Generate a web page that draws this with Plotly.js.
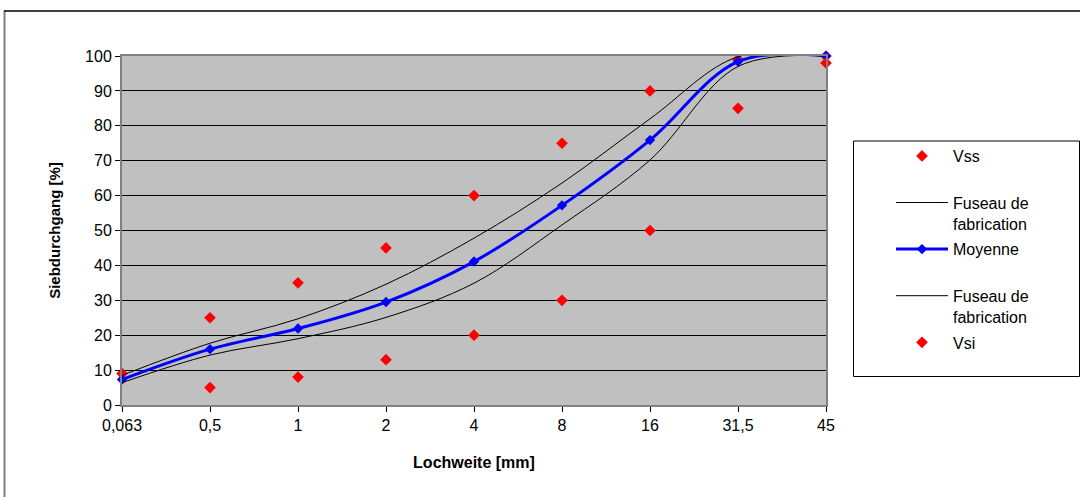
<!DOCTYPE html>
<html>
<head>
<meta charset="utf-8">
<script src="https://cdn.plot.ly/plotly-3.0.1.min.js"></script>
<style>
html,body{margin:0;padding:0;background:#fff;}
#chart{width:1080px;height:497px;}
</style>
</head>
<body>
<div id="chart"></div>
<script>
const categories = ["0,063", "0,5", "1", "2", "4", "8", "16", "31,5", "45"];
const vss      = [9, 25, 35, 45, 60, 75, 90, 99, 100];
const fuseauSup = [8.5, 17.7, 24.7, 34.6, 47.8, 63.6, 82.0, 99.8, 100];
const moyenne  = [7.3, 16.0, 21.9, 29.5, 41.1, 57.2, 75.9, 98.4, 100];
const fuseauInf = [6.4, 14.3, 19.0, 25.1, 34.9, 51.6, 70.2, 97.0, 100];
const vsi      = [null, 5, 8, 13, 20, 30, 50, 85, 98];
const yTicks   = [0, 10, 20, 30, 40, 50, 60, 70, 80, 90, 100];

const FONT = "Arial, 'Liberation Sans', sans-serif";

const traces = [
  {x: categories, y: vss, name: "Vss<br> ", legendgroup: "g1", type: "scatter", mode: "markers",
   marker: {symbol: "diamond", color: "#FF0000", size: 9}, cliponaxis: false},
  {x: categories, y: fuseauSup, name: "Fuseau de<br>fabrication", legendgroup: "g2", type: "scatter", mode: "lines",
   line: {color: "#000000", width: 1, shape: "spline", smoothing: 1}},
  {x: categories, y: moyenne, name: "Moyenne<br> ", legendgroup: "g3", type: "scatter", mode: "lines+markers",
   line: {color: "#0000FF", width: 3, shape: "spline", smoothing: 1},
   marker: {symbol: "diamond", color: "#0000FF", size: 8}, cliponaxis: false},
  {x: categories, y: fuseauInf, name: "Fuseau de<br>fabrication", legendgroup: "g4", type: "scatter", mode: "lines",
   line: {color: "#000000", width: 1, shape: "spline", smoothing: 1}},
  {x: categories, y: vsi, name: "Vsi", legendgroup: "g5", type: "scatter", mode: "markers",
   marker: {symbol: "diamond", color: "#FF0000", size: 9}, cliponaxis: false}
];

const L = 122, R = 826, T = 56, B = 405;
const px = v => (v - L) / (R - L);
const py = v => (B - v) / (B - T);

const layout = {
  width: 1080, height: 497,
  margin: {l: L, r: 1080 - R, t: T, b: 497 - B, pad: 0},
  paper_bgcolor: "#FFFFFF",
  plot_bgcolor: "#C0C0C0",
  font: {family: FONT, size: 16, color: "#000"},
  showlegend: true,
  legend: {
    x: px(891), xanchor: "left", y: py(139), yanchor: "top",
    borderwidth: 0, bgcolor: "rgba(0,0,0,0)",
    font: {family: FONT, size: 16, color: "#000"},
    valign: "top", traceorder: "grouped", itemclick: false,
    itemwidth: 52, tracegroupgap: 2
  },
  xaxis: {
    type: "category", categoryorder: "array", categoryarray: categories,
    range: [0, categories.length - 1],
    showgrid: false, zeroline: false,
    showline: true, linecolor: "#808080", linewidth: 2, mirror: true,
    ticks: "outside", ticklen: 5, tickcolor: "#000", tickwidth: 1,
    tickfont: {family: FONT, size: 16},
    title: {text: "<b>Lochweite [mm]</b>", font: {family: FONT, size: 16}, standoff: 24},
    automargin: false, fixedrange: true
  },
  yaxis: {
    range: [0, 100], tickvals: yTicks,
    showgrid: true, gridcolor: "#000", gridwidth: 1, zeroline: false,
    showline: true, linecolor: "#808080", linewidth: 2, mirror: true,
    ticks: "outside", ticklen: 5, tickcolor: "#000", tickwidth: 1,
    tickfont: {family: FONT, size: 16},
    title: {text: "<b>Siebdurchgang [%]</b>", font: {family: FONT, size: 15}, standoff: 21},
    automargin: false, fixedrange: true
  },
  shapes: [
    {type: "line", xref: "paper", yref: "paper", x0: px(4.5), x1: px(4.5), y0: py(11), y1: py(497),
     line: {color: "#808080", width: 2}},
    {type: "line", xref: "paper", yref: "paper", x0: px(4), x1: px(1080), y0: py(11), y1: py(11),
     line: {color: "#000", width: 1.5}},
    {type: "rect", xref: "paper", yref: "paper", x0: px(853.5), x1: px(1079.5), y0: py(376.5), y1: py(141),
     line: {color: "#000", width: 1}, fillcolor: "#FFFFFF", layer: "above"}
  ]
};

Plotly.newPlot("chart", traces, layout, {displayModeBar: false, staticPlot: true});
</script>
</body>
</html>
